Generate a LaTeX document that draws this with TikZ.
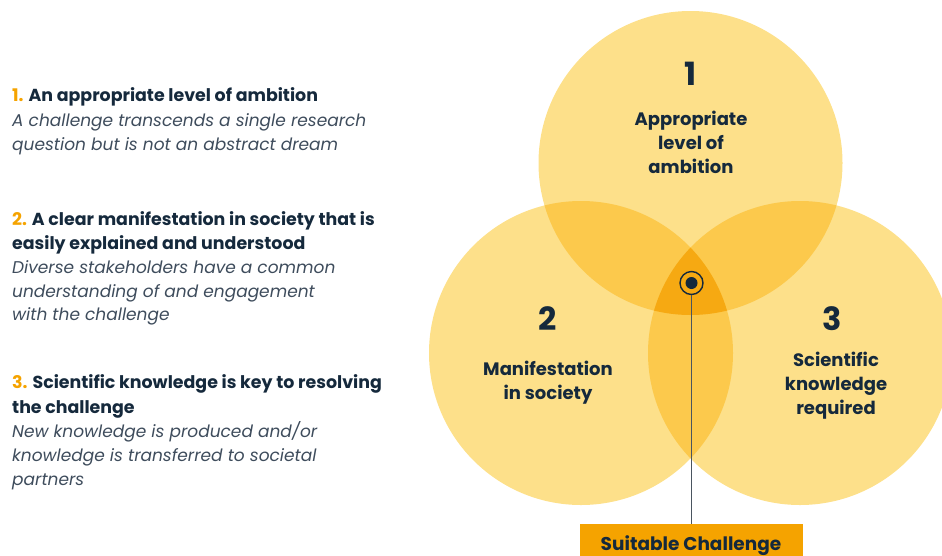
\documentclass[tikz,border=0pt]{standalone}
\usepackage{fontspec}
\setmainfont{Poppins}
\definecolor{ink}{HTML}{15293C}
\definecolor{note}{HTML}{3E4C5C}
\definecolor{accent}{HTML}{F5A300}
\definecolor{single}{HTML}{FDE08A}
\definecolor{pair}{HTML}{FCC94C}
\definecolor{triple}{HTML}{F6A912}
\definecolor{stem}{HTML}{4A5560}
\begin{document}
\begin{tikzpicture}[x=1pt,y=-1pt,
  head/.style={anchor=base west,inner sep=0pt,text=ink,font=\fontsize{17.4}{24}\selectfont\bfseries},
  sub/.style={anchor=base west,inner sep=0pt,text=note,font=\fontsize{17}{24}\selectfont\itshape},
  big/.style={anchor=base,inner sep=0pt,text=ink,font=\fontsize{32}{36}\selectfont\bfseries},
  lab/.style={anchor=base,inner sep=0pt,text=ink,font=\fontsize{18}{24}\selectfont\bfseries}]
\useasboundingbox (0,0) rectangle (942,555);
\begin{scope}
\clip (0,0) rectangle (942,555);
% circle centres
\coordinate (cA) at (690.5,163);
\coordinate (cB) at (581,353);
\coordinate (cC) at (800,353);
% single-circle fills
\fill[single] (cA) circle (152pt);
\fill[single] (cB) circle (152pt);
\fill[single] (cC) circle (152pt);
% pairwise overlaps
\begin{scope}\clip (cA) circle (152pt); \fill[pair] (cB) circle (152pt);\end{scope}
\begin{scope}\clip (cA) circle (152pt); \fill[pair] (cC) circle (152pt);\end{scope}
\begin{scope}\clip (cB) circle (152pt); \fill[pair] (cC) circle (152pt);\end{scope}
% centre overlap
\begin{scope}\clip (cA) circle (152pt); \clip (cB) circle (152pt); \fill[triple] (cC) circle (152pt);\end{scope}

% result box
\node[fill=accent,minimum width=223pt,minimum height=40pt,anchor=north,inner sep=0pt] (box) at (691,524) {};
\node[anchor=base,inner sep=0pt,text=ink,font=\fontsize{18.5}{24}\selectfont\bfseries] (boxlab) at (691,550) {Suitable Challenge};

% target marker and stem
\node[circle,draw=ink,line width=1.4pt,minimum size=23pt,inner sep=0pt] (ring) at (691.5,283) {};
\fill[ink] (ring.center) circle (6pt);
\draw[stem,line width=1.5pt] (ring.south) -- (ring.south |- box.north);
\end{scope}

% labels in circles
\node[big] (n1) at (691,85) {1};
\node[lab] (a1) at (691,125) {Appropriate};
\node[lab] (a2) at (691,149) {level of};
\node[lab] (a3) at (691,173) {ambition};

\node[big] (n2) at (548,330) {2};
\node[lab] (b1) at (548,375) {Manifestation};
\node[lab] (b2) at (548,399) {in society};

\node[big] (n3) at (832,330) {3};
\node[lab] (c1) at (836,366) {Scientific};
\node[lab] (c2) at (836,390) {knowledge};
\node[lab] (c3) at (836,414) {required};

% criteria list
\node[head] (h1) at (12,101) {\textcolor{accent}{1.} An appropriate level of ambition};
\node[sub] (s1a) at (12,126) {A challenge transcends a single research};
\node[sub] (s1b) at (12,150) {question but is not an abstract dream};

\node[head] (h2a) at (12,225) {\textcolor{accent}{2.} A clear manifestation in society that is};
\node[head] (h2b) at (12,249.5) {easily explained and understood};
\node[sub] (s2a) at (12,273) {Diverse stakeholders have a common};
\node[sub] (s2b) at (12,297) {understanding of and engagement};
\node[sub] (s2c) at (12,320) {with the challenge};

\node[head] (h3a) at (12,388) {\textcolor{accent}{3.} Scientific knowledge is key to resolving};
\node[head] (h3b) at (12,413) {the challenge};
\node[sub] (s3a) at (12,437) {New knowledge is produced and/or};
\node[sub] (s3b) at (12,461.5) {knowledge is transferred to societal};
\node[sub] (s3c) at (12,485) {partners};
\end{tikzpicture}
\end{document}
